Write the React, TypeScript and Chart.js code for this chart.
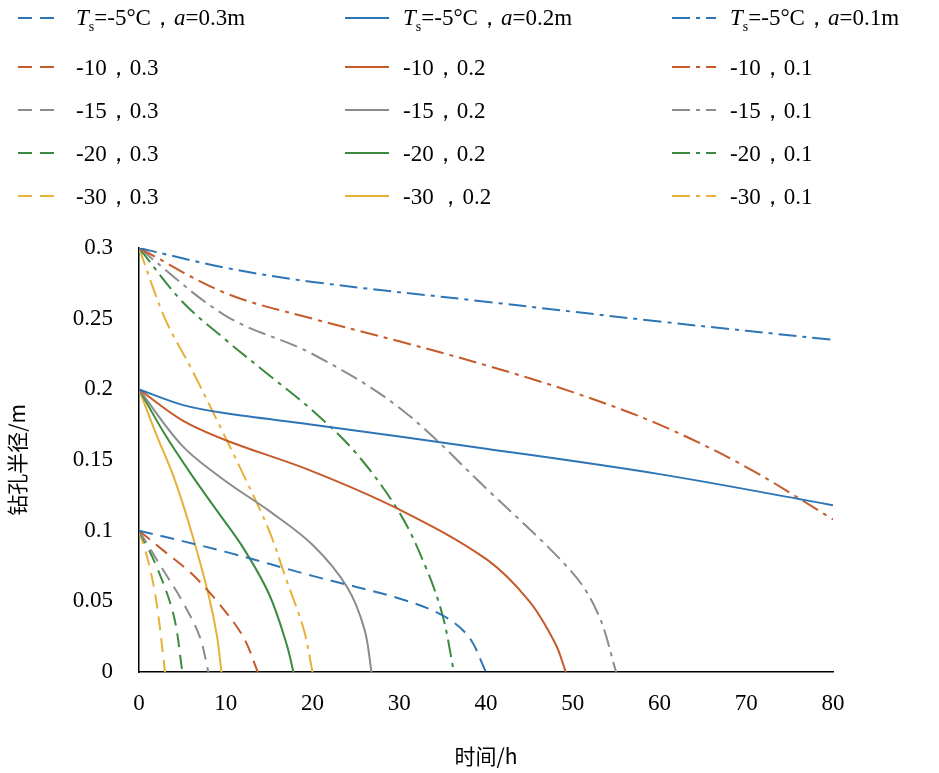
import React, { useEffect, useRef } from "react";
import { Chart, registerables } from "chart.js";
Chart.register(...registerables);

const colors = ["#2e75b6", "#c55a2b", "#8c8c8c", "#3b8a3f", "#e6b03a"];
const temps = ["-5", "-10", "-15", "-20", "-30"];

// curves starting at 0.3 (dash-dot)
const dashDotX = [
  [0, 10, 20, 40, 60, 80],
  [0, 10, 20, 30, 40, 50, 60, 70, 80],
  [0, 10, 20, 30, 40, 50, 53, 55],
  [0, 5, 10, 15, 20, 25, 30, 33, 35, 36.3],
  [0, 3, 6, 9, 12, 15, 17, 19, 20],
];
const dashDotY = [
  [0.3, 0.286, 0.276, 0.262, 0.248, 0.235],
  [0.3, 0.268, 0.25, 0.234, 0.217, 0.198, 0.175, 0.145, 0.108],
  [0.3, 0.252, 0.225, 0.187, 0.13, 0.07, 0.04, 0],
  [0.3, 0.262, 0.235, 0.21, 0.185, 0.155, 0.113, 0.075, 0.04, 0],
  [0.3, 0.25, 0.215, 0.178, 0.14, 0.1, 0.065, 0.03, 0],
];
// curves starting at 0.2 (solid)
const solidX = [
  [0, 5, 10, 20, 40, 60, 80],
  [0, 5, 10, 20, 30, 40, 45, 48, 49.2],
  [0, 5, 10, 15, 20, 24, 26, 26.8],
  [0, 3, 6, 9, 12, 15, 17, 17.8],
  [0, 2, 4, 6, 8, 9, 9.5],
];
const solidY = [
  [0.2, 0.189, 0.183, 0.175, 0.158, 0.14, 0.118],
  [0.2, 0.178, 0.164, 0.142, 0.115, 0.08, 0.05, 0.02, 0],
  [0.2, 0.16, 0.135, 0.114, 0.09, 0.06, 0.03, 0],
  [0.2, 0.168, 0.14, 0.114, 0.088, 0.055, 0.02, 0],
  [0.2, 0.168, 0.138, 0.1, 0.055, 0.025, 0],
];
// curves starting at 0.1 (dashed)
const dashX = [
  [0, 10, 20, 30, 35, 38, 40],
  [0, 3, 6, 9, 12, 13.7],
  [0, 3, 5, 7, 8],
  [0, 2, 4, 5],
  [0, 1, 2, 3],
];
const dashY = [
  [0.1, 0.085, 0.068, 0.052, 0.04, 0.025, 0],
  [0.1, 0.085, 0.07, 0.05, 0.025, 0],
  [0.1, 0.07, 0.05, 0.025, 0],
  [0.1, 0.075, 0.04, 0],
  [0.1, 0.08, 0.05, 0],
];
const xTicks = [0, 10, 20, 30, 40, 50, 60, 70, 80];

const DASH = [14, 8];
const DASHDOT = [18, 6, 4, 6];

function mk(xs: number[][], ys: number[][], dash: number[]) {
  return xs.map((xa, i) => ({
    data: xa.map((x, j) => ({ x, y: ys[i][j] })),
    borderColor: colors[i],
    borderWidth: 2,
    borderDash: dash,
    pointRadius: 0,
    fill: false,
    tension: 0.35,
  }));
}

const serif = "'Liberation Serif', 'Times New Roman', serif";

function Sample({ color, dash }: { color: string; dash: string }) {
  return (
    <svg width="44" height="6" style={{ marginRight: 14 }}>
      <line x1="0" y1="3" x2="44" y2="3" stroke={color} strokeWidth="2" strokeDasharray={dash} />
    </svg>
  );
}

export default function App() {
  const ref = useRef<HTMLCanvasElement>(null);
  useEffect(() => {
    document.body.style.margin = "0";
    const ch = new Chart(ref.current!, {
      type: "line",
      data: {
        datasets: [
          ...mk(dashX, dashY, DASH),
          ...mk(solidX, solidY, []),
          ...mk(dashDotX, dashDotY, DASHDOT),
        ] as any,
      },
      options: {
        animation: false,
        responsive: false,
        layout: { padding: { top: 248, right: 106, left: 0, bottom: 0 } },
        plugins: { legend: { display: false }, tooltip: { enabled: false } },
        scales: {
          x: {
            type: "linear",
            min: 0,
            max: 80,
            afterBuildTicks: (s: any) => { s.ticks = xTicks.map((v) => ({ value: v })); },
            afterFit: (s: any) => { s.height = 101; },
            grid: { display: false },
            border: { color: "#000", width: 1.5 },
            ticks: { color: "#000", font: { family: serif, size: 23 }, padding: 10 },
            title: { display: true, text: "时间/h", color: "#000", font: { family: "'Noto Sans CJK SC'", size: 21 }, padding: { top: 0 } },
          },
          y: {
            min: 0,
            max: 0.3,
            ticks: {
              stepSize: 0.05, color: "#000", font: { family: serif, size: 23 }, padding: 18,
              callback: (v: any) => String(Math.round(Number(v) * 100) / 100),
            },
            afterFit: (s: any) => { s.width = 139; },
            grid: { display: false },
            border: { color: "#000", width: 1.5 },
            title: { display: true, text: "钻孔半径/m", color: "#000", font: { family: "'Noto Sans CJK SC'", size: 21 }, padding: { bottom: 0 } },
          },
        },
      },
    });
    return () => ch.destroy();
  }, []);

  const cols = [
    { left: 18, dash: "14 8", first: <><i>T</i><sub style={{ fontSize: 14 }}>s</sub>=-5°C，<i>a</i>=0.3m</>, suffix: "0.3" },
    { left: 345, dash: "", first: <><i>T</i><sub style={{ fontSize: 14 }}>s</sub>=-5°C，<i>a</i>=0.2m</>, suffix: "0.2" },
    { left: 672, dash: "18 6 4 6", first: <><i>T</i><sub style={{ fontSize: 14 }}>s</sub>=-5°C，<i>a</i>=0.1m</>, suffix: "0.1" },
  ];
  const rowsY = [18, 67, 110, 153, 196];

  return (
    <div style={{ position: "relative", width: 939, height: 773 }}>
      <canvas ref={ref} width={939} height={773} style={{ position: "absolute", left: 0, top: 0 }} />
      {cols.map((c, ci) =>
        rowsY.map((y, ri) => (
          <div key={ci + "-" + ri} style={{ position: "absolute", left: c.left, top: y - 14, height: 28, display: "flex", alignItems: "center", fontFamily: serif, fontSize: 23, color: "#000", whiteSpace: "nowrap" }}>
            <Sample color={colors[ri]} dash={c.dash} />
            <span>{ri === 0 ? c.first : `${temps[ri]}${ci === 1 && ri === 4 ? " " : ""}，${c.suffix}`}</span>
          </div>
        ))
      )}
    </div>
  );
}
